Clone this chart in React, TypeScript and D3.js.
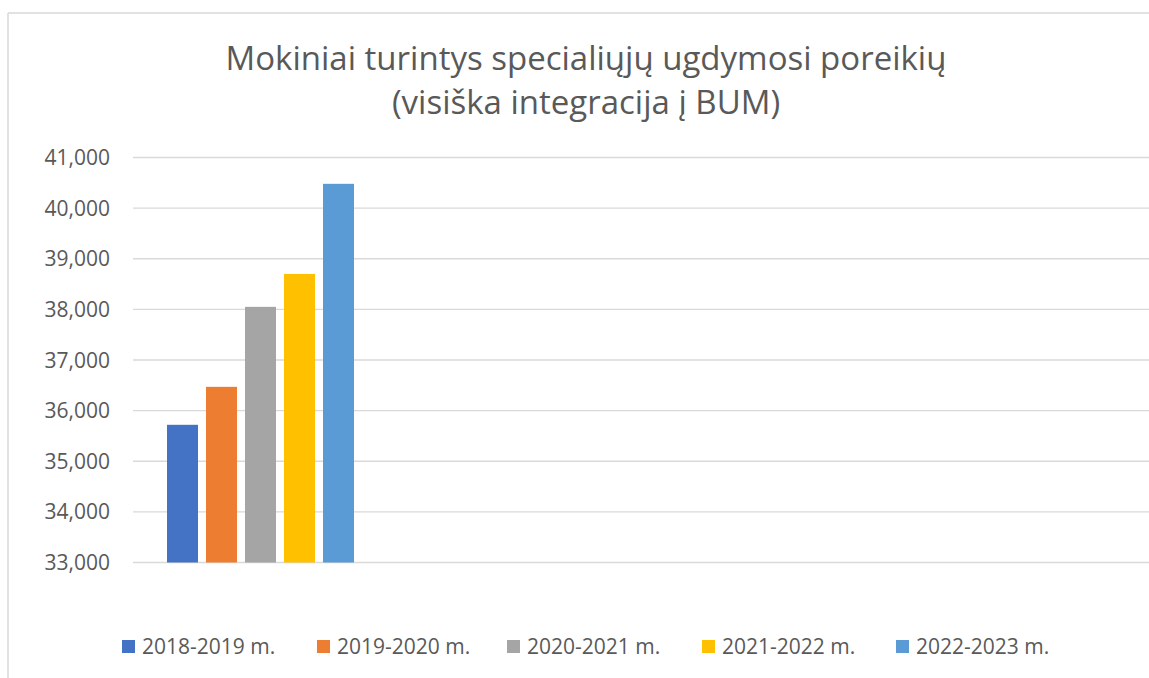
import React from "react";
import * as d3 from "d3";

const titleLines = ["Mokiniai turintys specialiųjų ugdymosi poreikių", "(visiška integracija į BUM)"];
const categories = ["BUM"];
const seriesNames = ["2018-2019 m.", "2019-2020 m.", "2020-2021 m.", "2021-2022 m.", "2022-2023 m."];
const seriesValues = [35720, 36470, 38050, 38700, 40480];
const seriesColors = ["#4472C4", "#ED7D31", "#A5A5A5", "#FFC000", "#5B9BD5"];
const yTicks = [33000, 34000, 35000, 36000, 37000, 38000, 39000, 40000, 41000];

const W = 1149;
const H = 678;
const FONT = "'Open Sans', 'Noto Sans', sans-serif";

export default function App() {
  const plotLeft = 133;
  const plotRight = 1149;
  const y = d3.scaleLinear().domain([33000, 41000]).range([562.5, 157.5]);
  const x0 = d3.scaleBand<string>().domain(categories).range([plotLeft, plotLeft + 255]).padding(0);
  const x1 = d3
    .scaleBand<string>()
    .domain(seriesNames)
    .range([34, 221])
    .paddingInner(0.205)
    .paddingOuter(0);
  const fmt = d3.format(",");
  const legendX = [122, 317, 507, 702, 896];

  return (
    <svg
      width={W}
      height={H}
      style={{ position: "absolute", left: 0, top: 0, background: "#fff" }}
    >
      <rect x={0} y={0} width={W} height={H} fill="#fff" />
      {/* frame */}
      <line x1={8} x2={W} y1={13} y2={13} stroke="#d9d9d9" strokeWidth={1.5} />
      <line x1={8} x2={8} y1={13} y2={H} stroke="#d9d9d9" strokeWidth={1.5} />
      {/* title */}
      {titleLines.map((t, i) => (
        <text
          key={i}
          x={586}
          y={70 + i * 44}
          textAnchor="middle"
          fontFamily={FONT}
          fontSize={33}
          fill="#595959"
        >
          {t}
        </text>
      ))}
      {/* gridlines */}
      {yTicks.map((t) => (
        <line
          key={t}
          x1={plotLeft}
          x2={plotRight}
          y1={y(t)}
          y2={y(t)}
          stroke="#d9d9d9"
          strokeWidth={1.3}
        />
      ))}
      {/* y labels */}
      {yTicks.map((t) => (
        <text
          key={"l" + t}
          x={110}
          y={y(t)}
          dy="0.36em"
          textAnchor="end"
          fontFamily={FONT}
          fontSize={21}
          fill="#595959"
        >
          {fmt(t)}
        </text>
      ))}
      {/* bars */}
      {categories.map((c) => (
        <g key={c} transform={`translate(${x0(c)},0)`}>
          {seriesNames.map((s, i) => (
            <rect
              key={s}
              x={x1(s)}
              y={y(seriesValues[i])}
              width={x1.bandwidth()}
              height={y(33000) - y(seriesValues[i])}
              fill={seriesColors[i]}
            />
          ))}
        </g>
      ))}
      {/* legend */}
      {seriesNames.map((s, i) => (
        <g key={"lg" + s} transform={`translate(${legendX[i]},0)`}>
          <rect x={0} y={640} width={13} height={13} fill={seriesColors[i]} />
          <text
            x={20}
            y={646.5}
            dy="0.36em"
            fontFamily={FONT}
            fontSize={21}
            fill="#595959"
          >
            {s}
          </text>
        </g>
      ))}
    </svg>
  );
}
